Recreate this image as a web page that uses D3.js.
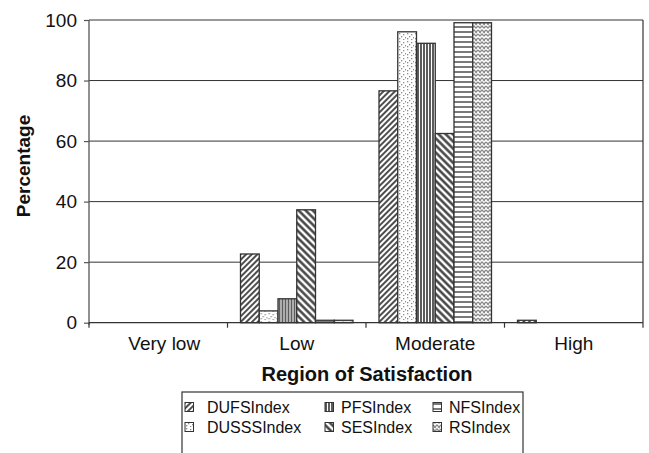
<!DOCTYPE html>
<html>
<head>
<meta charset="utf-8">
<script src="https://cdn.jsdelivr.net/npm/d3@7"></script>
<style>
html,body{margin:0;padding:0;background:#fff;}
svg{display:block;font-family:"Liberation Sans",Arial,sans-serif;}
</style>
</head>
<body>
<svg id="chart" width="649" height="453"></svg>
<script>
const categories = ["Very low", "Low", "Moderate", "High"];
const seriesNames = ["DUFSIndex", "DUSSSIndex", "PFSIndex", "SESIndex", "NFSIndex", "RSIndex"];
const DUFSIndex  = [0, 22.7, 76.6, 0.8];
const DUSSSIndex = [0, 3.9, 96.1, 0];
const PFSIndex   = [0, 7.9, 92.3, 0];
const SESIndex   = [0, 37.3, 62.5, 0];
const NFSIndex   = [0, 0.8, 99.1, 0];
const RSIndex    = [0, 0.8, 99.1, 0];
const yTicks = [0, 20, 40, 60, 80, 100];

const seriesValues = [DUFSIndex, DUSSSIndex, PFSIndex, SESIndex, NFSIndex, RSIndex];
const legendOrder = ["DUFSIndex", "PFSIndex", "NFSIndex", "DUSSSIndex", "SESIndex", "RSIndex"];

const svg = d3.select("#chart");
const pLeft = 89, pRight = 643, pTop = 20, pBottom = 322.7;

const x0 = d3.scaleBand().domain(categories).range([pLeft, pRight]).paddingInner(0).paddingOuter(0);
const bw = x0.bandwidth();
const x1 = d3.scaleBand().domain(seriesNames).range([13, bw - 13]).padding(0);
const y = d3.scaleLinear().domain([0, 100]).range([pBottom, pTop]);

// patterns
const defs = svg.append("defs");
function pat(id, w, h, transform) {
  const p = defs.append("pattern").attr("id", id).attr("patternUnits", "userSpaceOnUse")
    .attr("width", w).attr("height", h);
  if (transform) p.attr("patternTransform", transform);
  p.append("rect").attr("width", w).attr("height", h).attr("fill", "#fff");
  return p;
}
// DUFS: fine "/" diagonals
pat("p0", 4, 4, "rotate(45)").append("line").attr("x1", 1).attr("y1", 0).attr("x2", 1).attr("y2", 4)
  .attr("stroke", "#3a3a3a").attr("stroke-width", 1.8);
// DUSSS: stipple dots
{
  const p = pat("p1", 8, 8);
  [[1,1],[5,2],[3,4],[7,5],[1,6],[5,7]].forEach(d => p.append("rect").attr("x", d[0]).attr("y", d[1])
    .attr("width", 1.3).attr("height", 1.3).attr("fill", "#8a8a8a"));
}
// PFS: dense verticals
pat("p2", 3, 3).append("line").attr("x1", 1).attr("y1", 0).attr("x2", 1).attr("y2", 3)
  .attr("stroke", "#333").attr("stroke-width", 1.6);
// SES: "\" diagonals
pat("p3", 5, 5, "rotate(-45)").append("line").attr("x1", 1.5).attr("y1", 0).attr("x2", 1.5).attr("y2", 5)
  .attr("stroke", "#3a3a3a").attr("stroke-width", 2.4);
// NFS: horizontals
pat("p4", 5, 5).append("line").attr("x1", 0).attr("y1", 2).attr("x2", 5).attr("y2", 2)
  .attr("stroke", "#7a7a7a").attr("stroke-width", 2);
// RS: zigzag weave
{
  const p = pat("p5", 8, 8);
  p.append("path").attr("d", "M0,2 L2,4 L4,2 L6,4 L8,2 M0,6 L2,8 L4,6 L6,8 L8,6 M1,0 L3,1 M5,0 L7,1")
    .attr("fill", "none").attr("stroke", "#8a8a8a").attr("stroke-width", 1.3);
}
const patId = name => "url(#p" + seriesNames.indexOf(name) + ")";

// gridlines
svg.append("g").selectAll("line").data(yTicks.filter(t => t > 0)).join("line")
  .attr("x1", pLeft).attr("x2", pRight).attr("y1", d => y(d)).attr("y2", d => y(d))
  .attr("stroke", "#333").attr("stroke-width", 1);

// right border
svg.append("line").attr("x1", pRight).attr("x2", pRight).attr("y1", pTop).attr("y2", pBottom)
  .attr("stroke", "#333").attr("stroke-width", 1.2);

// bars
const groups = svg.append("g").selectAll("g").data(categories).join("g")
  .attr("transform", d => `translate(${x0(d)},0)`);
groups.selectAll("rect").data((c, ci) => seriesNames.map((s, si) => ({s, v: seriesValues[si][ci]})).filter(d => d.v > 0))
  .join("rect")
  .attr("x", d => x1(d.s)).attr("width", x1.bandwidth())
  .attr("y", d => y(d.v)).attr("height", d => pBottom - y(d.v))
  .attr("fill", d => patId(d.s)).attr("stroke", "#333").attr("stroke-width", 1.3);

// y axis
const yAxis = d3.axisLeft(y).tickValues(yTicks).tickSize(5).tickPadding(7).tickFormat(d3.format("d"));
const gy = svg.append("g").attr("transform", `translate(${pLeft},0)`).call(yAxis);
gy.select(".domain").attr("stroke", "#555").attr("stroke-width", 1.3).attr("d", `M0,${pTop}V${pBottom + 2}`);
gy.selectAll(".tick line").attr("stroke", "#555").attr("stroke-width", 1.2);
gy.selectAll("text").attr("font-size", 19).attr("fill", "#111").attr("font-family", "Liberation Sans, Arial, sans-serif");

// x axis
const xAxis = d3.axisBottom(x0).tickSize(0).tickPadding(0);
const gx = svg.append("g").attr("transform", `translate(0,${pBottom})`).call(xAxis);
gx.select(".domain").attr("stroke", "#333").attr("stroke-width", 1.3).attr("d", `M${pLeft},0H${pRight}`);
gx.selectAll("text").attr("font-size", 19).attr("fill", "#111").attr("dy", null).attr("y", 27)
  .attr("x", (d, i) => i === 0 ? 6 : 0)
  .attr("font-family", "Liberation Sans, Arial, sans-serif");
// boundary ticks
svg.append("g").selectAll("line").data(categories.map(c => x0(c)).concat([pRight])).join("line")
  .attr("x1", d => d).attr("x2", d => d).attr("y1", pBottom).attr("y2", pBottom + 5)
  .attr("stroke", "#333").attr("stroke-width", 1.2);

// titles
svg.append("text").attr("x", 367).attr("y", 381).attr("text-anchor", "middle")
  .attr("font-size", 20).attr("font-weight", "bold").attr("fill", "#111").text("Region of Satisfaction");
svg.append("text").attr("transform", "translate(30,166) rotate(-90)").attr("text-anchor", "middle")
  .attr("font-size", 19).attr("font-weight", "bold").attr("fill", "#111").text("Percentage");

// legend
const lg = svg.append("g");
lg.append("rect").attr("x", 182).attr("y", 392).attr("width", 341).attr("height", 80)
  .attr("fill", "#fff").attr("stroke", "#333").attr("stroke-width", 1.2);
const colX = [185, 325, 433];
const rowY = [407, 427];
legendOrder.forEach((name, i) => {
  const col = i % 3, row = Math.floor(i / 3);
  const g = lg.append("g").attr("transform", `translate(${colX[col]},${rowY[row]})`);
  g.append("rect").attr("x", 0).attr("y", -4.5).attr("width", 8.5).attr("height", 9)
    .attr("fill", patId(name)).attr("stroke", "#333").attr("stroke-width", 1);
  g.append("text").attr("x", col === 0 ? 22 : 16).attr("y", 6).attr("font-size", 16).attr("fill", "#111").text(name);
});
</script>
</body>
</html>
